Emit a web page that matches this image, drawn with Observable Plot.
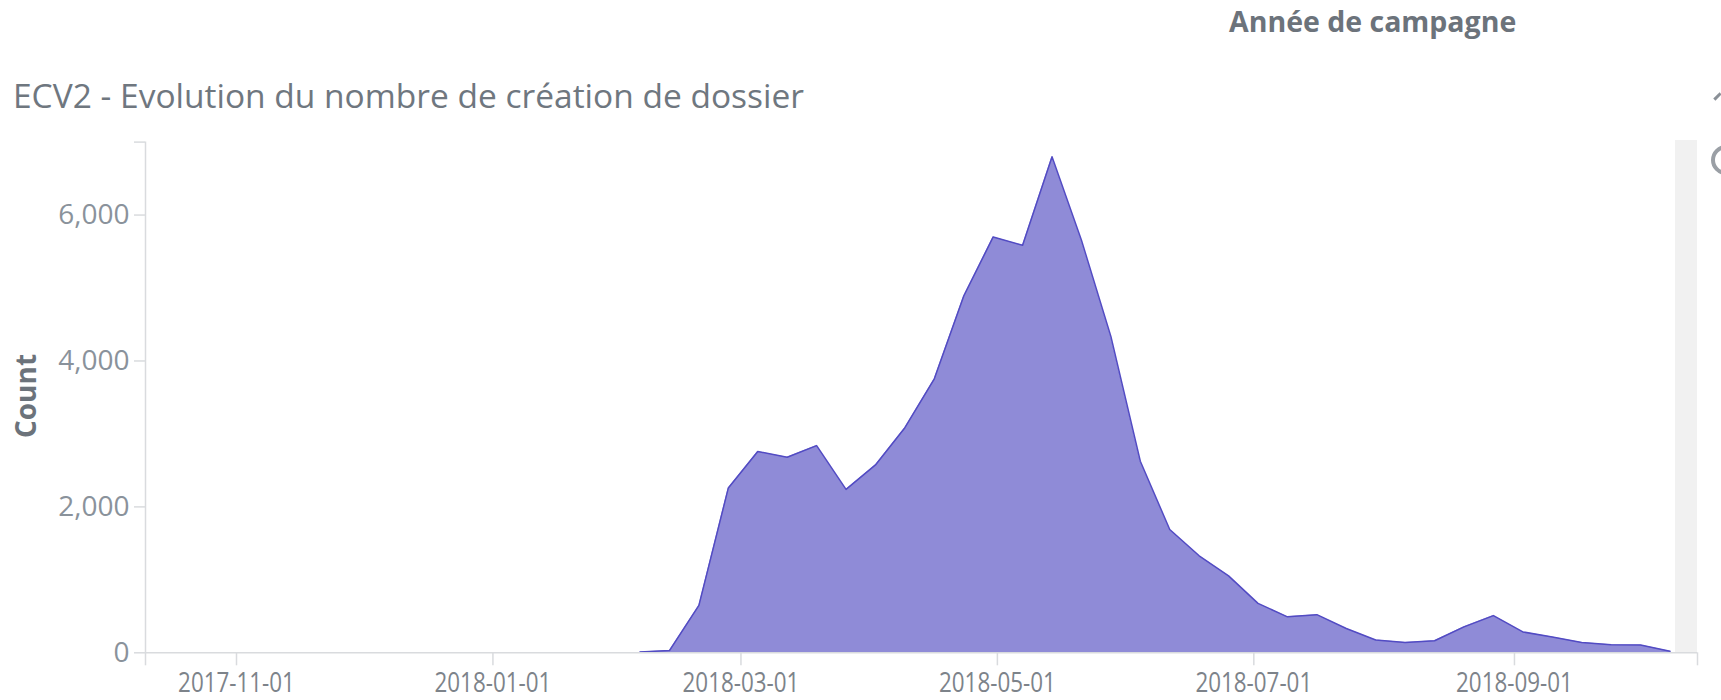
<!DOCTYPE html>
<html>
<head>
<meta charset="utf-8">
<script src="https://cdn.jsdelivr.net/npm/d3@7"></script>
<script src="https://cdn.jsdelivr.net/npm/@observablehq/plot@0.6"></script>
<style>
  html, body { margin: 0; padding: 0; background: #fff; }
  #wrap { position: relative; width: 1721px; height: 700px; overflow: hidden; font-family: "Open Sans", sans-serif; }
  #header { position: relative; height: 130px; }
  #legendTitle { position: absolute; left: 1229px; top: 2px; font-size: 28.5px; font-weight: 700; color: #6c737b; white-space: nowrap; }
  #title { position: absolute; left: 13px; top: 72px; font-size: 33.5px; font-weight: 400; color: #6f777f; white-space: nowrap; }
  #ylabel { position: absolute; left: 25px; top: 396px; transform: translate(-50%, -50%) rotate(-90deg); font-size: 28px; font-weight: 700; color: #6c737b; white-space: nowrap; }
  #sidebar { position: absolute; left: 1675px; top: 140px; width: 22px; height: 512px; background: #f1f1f1; }
  #icon1 { position: absolute; left: 1711px; top: 145px; width: 22px; height: 22px; border: 4px solid #9a9fa5; border-radius: 50%; }
  #icon2 { position: absolute; left: 1713px; top: 95px; width: 9px; height: 3px; background: #8a9097; transform: rotate(-45deg); }
  #chart { display: block; }
</style>
</head>
<body>
<div id="wrap">
  <div id="header">
    <div id="legendTitle">Année de campagne</div>
    <div id="title">ECV2 - Evolution du nombre de création de dossier</div>
    <div id="icon2"></div>
  </div>
  <div id="chart"></div>
  <div id="sidebar"></div>
  <div id="icon1"></div>
  <div id="ylabel">Count</div>
</div>
<script>
// Weekly buckets (Mondays)
const weeks = [
  "2018-02-05","2018-02-12","2018-02-19","2018-02-26","2018-03-05","2018-03-12",
  "2018-03-19","2018-03-26","2018-04-02","2018-04-09","2018-04-16","2018-04-23",
  "2018-04-30","2018-05-07","2018-05-14","2018-05-21","2018-05-28","2018-06-04",
  "2018-06-11","2018-06-18","2018-06-25","2018-07-02","2018-07-09","2018-07-16",
  "2018-07-23","2018-07-30","2018-08-06","2018-08-13","2018-08-20","2018-08-27",
  "2018-09-03","2018-09-10","2018-09-17","2018-09-24","2018-10-01","2018-10-08"
];
const counts = [
  10, 30, 650, 2260, 2760, 2680,
  2840, 2240, 2575, 3085, 3755, 4890,
  5700, 5585, 6800, 5655, 4335, 2625,
  1690, 1330, 1055, 677, 493, 523,
  333, 176, 140, 165, 356, 510,
  286, 218, 140, 110, 108, 20
];
const xTickLabels = ["2017-11-01","2018-01-01","2018-03-01","2018-05-01","2018-07-01","2018-09-01"];
const xDomain = ["2017-10-10T08:30:00Z", "2018-10-14T13:00:00Z"];
const yTicks = [0, 2000, 4000, 6000];
const yDomain = [0, 7000];

const data = weeks.map((w, i) => ({date: new Date(w + "T00:00:00Z"), count: counts[i]}));
const xd = xDomain.map(d => new Date(d));
const labelSet = new Set(xTickLabels);
const fmtDate = d3.utcFormat("%Y-%m-%d");
const fmtNum = d3.format(",");

const chart = Plot.plot({
  width: 1721,
  height: 570,
  marginLeft: 145,
  marginRight: 24,
  marginTop: 11.6,
  marginBottom: 47.7,
  style: {fontFamily: "'Open Sans', sans-serif", fontSize: "28px", color: "#80878f", background: "transparent", overflow: "visible"},
  x: {type: "utc", domain: xd},
  y: {domain: yDomain},
  marks: [
    Plot.areaY(data, {x: "date", y: "count", fill: "#8f8bd7", curve: "linear"}),
    Plot.lineY(data, {x: "date", y: "count", stroke: "#524bc3", strokeWidth: 1.5, curve: "linear"}),
    Plot.ruleY([yDomain[0]], {stroke: "#d9dbde", strokeWidth: 1.5}),
    Plot.ruleX([xd[0]], {stroke: "#d9dbde", strokeWidth: 1.5}),
    Plot.axisX({
      ticks: [xd[0], ...xTickLabels.map(s => new Date(s + "T00:00:00Z")), xd[1]],
      tickFormat: d => { const s = fmtDate(d); return labelSet.has(s) && d > xd[0] && d < xd[1] ? s : ""; },
      tickSize: 13, tickPadding: 6, label: null
    }),
    Plot.axisY({
      ticks: [...yTicks, yDomain[1]],
      tickFormat: d => yTicks.includes(d) ? fmtNum(d) : "",
      tickSize: 11, tickPadding: 5, label: null
    })
  ]
});
document.getElementById("chart").appendChild(chart);

const svg = d3.select(chart);
svg.selectAll('g[aria-label="x-axis tick"] path, g[aria-label="y-axis tick"] path')
  .attr("stroke", "#d9dbde").attr("stroke-width", 1.5);
svg.selectAll('g[aria-label="x-axis tick"], g[aria-label="y-axis tick"]')
  .attr("stroke", "#d9dbde").attr("stroke-width", 1.5);
svg.selectAll('g[aria-label="x-axis tick label"] text').each(function() {
  const t = this.getAttribute("transform") || "";
  this.setAttribute("transform", t + " scale(0.8,1)");
  this.setAttribute("fill", "#7d838a");
});
svg.selectAll('g[aria-label="y-axis tick label"] text').attr("fill", "#8a929b");
</script>
</body>
</html>
